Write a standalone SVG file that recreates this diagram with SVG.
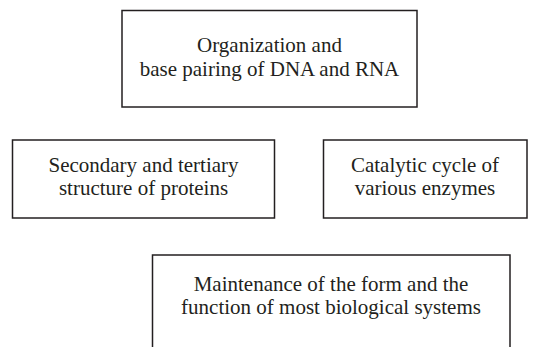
<svg xmlns="http://www.w3.org/2000/svg" width="538" height="347" viewBox="0 0 538 347">
<style>
.box{fill:#fff;stroke:#231f20;stroke-width:1.5}
.t{font-family:'Liberation Serif','Times New Roman',Times,serif;font-size:21px;fill:#231f20;text-anchor:middle}
</style>
<rect width="538" height="347" fill="#fff"/>
<g id="connectors"></g>
<g id="node-dna" font-family="Liberation Serif, Times New Roman, serif">
<rect class="box" x="122" y="10.5" width="295" height="96.5"/>
<text class="t" x="269.5" y="52">Organization and</text>
<text class="t" x="269.5" y="76">base pairing of DNA and RNA</text>
</g>
<g id="node-proteins" font-family="Liberation Serif, Times New Roman, serif">
<rect class="box" x="12.5" y="140" width="262" height="78"/>
<text class="t" x="143.5" y="172">Secondary and tertiary</text>
<text class="t" x="143.5" y="195">structure of proteins</text>
</g>
<g id="node-enzymes" font-family="Liberation Serif, Times New Roman, serif">
<rect class="box" x="323.5" y="140" width="203.5" height="78"/>
<text class="t" x="425" y="172">Catalytic cycle of</text>
<text class="t" x="425" y="195">various enzymes</text>
</g>
<g id="node-maintenance" font-family="Liberation Serif, Times New Roman, serif">
<rect class="box" x="152.5" y="255" width="357.5" height="110"/>
<text class="t" x="331" y="291">Maintenance of the form and the</text>
<text class="t" x="331" y="314">function of most biological systems</text>
</g>
</svg>
